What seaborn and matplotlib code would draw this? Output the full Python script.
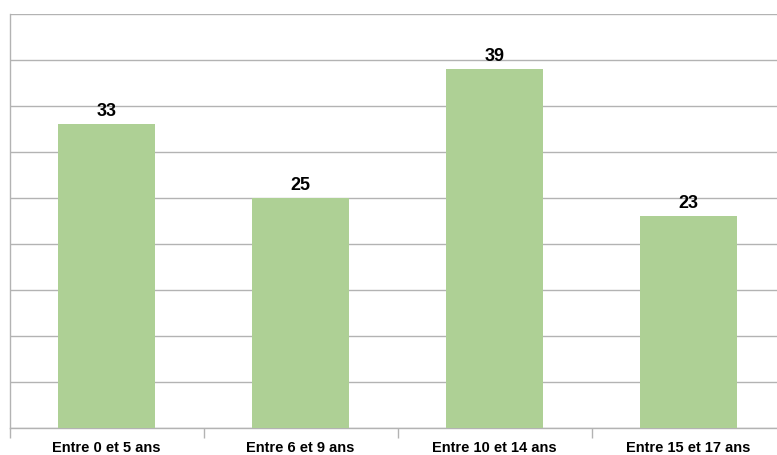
import matplotlib
matplotlib.use("Agg")
import matplotlib.pyplot as plt
import seaborn as sns
import pandas as pd
import numpy as np

# Data
categories = ["Entre 0 et 5 ans", "Entre 6 et 9 ans", "Entre 10 et 14 ans", "Entre 15 et 17 ans"]
values = [33, 25, 39, 23]

BAR_COLOR = "#aed095"
GRID_COLOR = "#b3b3b3"

sns.set_style("white")
plt.rcParams['font.family'] = ['Liberation Sans', 'DejaVu Sans']

df = pd.DataFrame({"cat": categories, "val": values})

fig = plt.figure(figsize=(7.77, 4.55), dpi=100)
W, H = 777, 455
ax = fig.add_axes([9.5 / W, (H - 428) / H, 776 / W, (428 - 14) / H])

sns.barplot(data=df, x="cat", y="val", color=BAR_COLOR, width=0.5, ax=ax,
            saturation=1, linewidth=0, zorder=3)

ax.set_xlim(-0.5, len(categories) - 0.5)
ax.set_ylim(0, 45)
ax.set_yticks(np.arange(0, 46, 5))
ax.yaxis.grid(True, color=GRID_COLOR, linewidth=1, zorder=0)
ax.set_axisbelow(True)
ax.set_yticklabels([])
ax.tick_params(axis="y", length=0)

# category labels, ticks at boundaries
ax.set_xticks(range(len(categories)))
ax.set_xticklabels(categories, fontsize=10.5, fontweight="bold", color="black")
ax.tick_params(axis="x", which="major", length=0, pad=9)
ax.set_xticks(np.arange(-0.5, len(categories), 1), minor=True)
ax.tick_params(axis="x", which="minor", bottom=True, length=7, color=GRID_COLOR, width=1)
ax.set_xlabel("")
ax.set_ylabel("")

for s in ["top", "right"]:
    ax.spines[s].set_visible(False)
for s in ["left", "bottom"]:
    ax.spines[s].set_color(GRID_COLOR)
    ax.spines[s].set_linewidth(1)

for i, v in enumerate(values):
    ax.annotate(str(v), (i, v), xytext=(0, 3), textcoords="offset points",
                ha="center", va="bottom", fontsize=13, fontweight="bold", color="black")

fig.savefig("out.png", dpi=100)
